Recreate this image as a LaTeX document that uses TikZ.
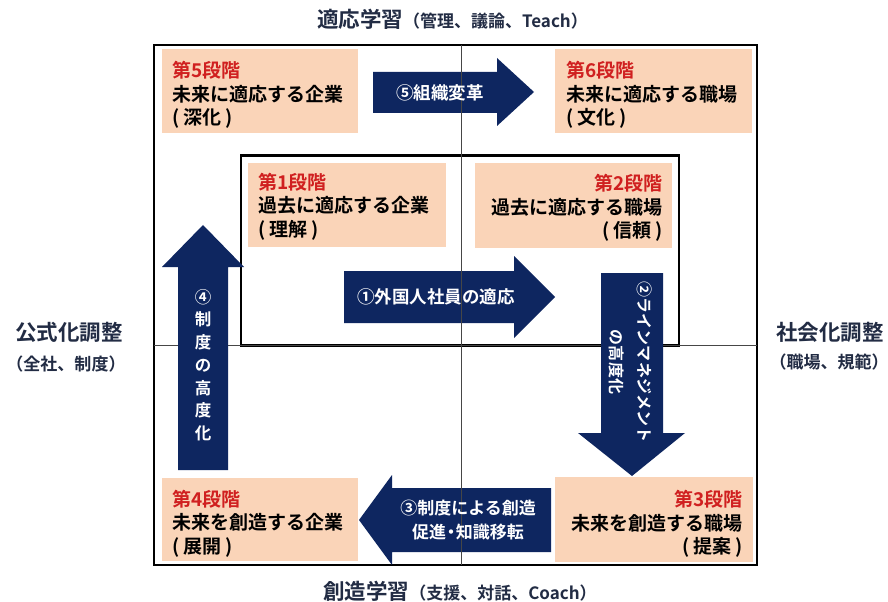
\documentclass[tikz,border=0pt]{standalone}
\usepackage{fontspec}
\newfontfamily\jp{Noto Sans CJK JP Bold}
\definecolor{navy}{RGB}{14,38,96}
\definecolor{peach}{RGB}{250,212,184}
\definecolor{stagered}{RGB}{208,32,32}
\definecolor{axistext}{RGB}{34,44,68}
\definecolor{midgray}{RGB}{70,70,70}
\tikzset{
  stagebox/.style={fill=peach, draw=none, inner sep=0pt, outer sep=0pt},
  stagetxt/.style={inner sep=0pt, font=\jp\fontsize{19bp}{23.5bp}\selectfont, text=black},
  arrowshape/.style={fill=navy, draw=none},
  arrowtxt/.style={inner sep=0pt, text=white, align=center, font=\jp\fontsize{17.5bp}{24bp}\selectfont},
  axisbig/.style={inner sep=0pt, text=axistext, font=\jp},
  frame/.style={draw=black, line width=2.2bp, inner sep=0pt, outer sep=0pt},
  midline/.style={draw=midgray, line width=0.9bp}
}
\newcommand{\stg}[1]{\textcolor{stagered}{#1}}
\newcommand{\pr}[1]{(\hspace{0.22em}#1\hspace{0.22em})}
\begin{document}
\begin{tikzpicture}[x=1bp,y=-1bp]
\useasboundingbox[fill=white] (0,0) rectangle (888,602);

% stage boxes
\node[stagebox, minimum width=196bp, minimum height=84bp] (box5) at (260,91) {};
\node[stagebox, minimum width=197bp, minimum height=84bp] (box6) at (653.5,91) {};
\node[stagebox, minimum width=198bp, minimum height=84bp] (box1) at (347,205) {};
\node[stagebox, minimum width=197bp, minimum height=85bp] (box2) at (573.5,205.5) {};
\node[stagebox, minimum width=196bp, minimum height=83bp] (box4) at (260,519.5) {};
\node[stagebox, minimum width=198bp, minimum height=85bp] (box3) at (654,519.5) {};

% frames
\node[frame, minimum width=603bp, minimum height=520bp] (outer) at (455.5,305) {};
\node[frame, minimum width=438bp, minimum height=190bp] (inner) at (460,250.5) {};

% horizontal centre line
\coordinate (hl) at (154,345);
\coordinate (hr) at (757,345);
\draw[midline] (hl) -- (hr);

% arrows
\fill[arrowshape] (373,72) -- (497,72) -- (497,58) -- (534,92) -- (497,126) -- (497,113) -- (373,113) -- cycle;
\fill[arrowshape] (344,271) -- (514,271) -- (514,256) -- (555,297) -- (514,338) -- (514,323) -- (344,323) -- cycle;
\fill[arrowshape] (601,273) -- (663,273) -- (663,433) -- (685,433) -- (632,476) -- (578,433) -- (601,433) -- cycle;
\fill[arrowshape] (551,488) -- (392,488) -- (392,475) -- (359,520) -- (392,565) -- (392,552) -- (551,552) -- cycle;
\fill[arrowshape] (178,470) -- (178,267) -- (162,267) -- (203,225) -- (244,267) -- (228,267) -- (228,470) -- cycle;

% vertical centre line
\coordinate (vt) at (461,45);
\coordinate (vb) at (461,565);
\draw[midline] (vt) -- (vb);

% arrow texts
\node[arrowtxt] (a5) at (440,92.5) {⑤組織変革};
\node[arrowtxt] (a1) at (436,297) {①外国人社員の適応};
\node[arrowtxt, font=\jp\fontsize{17bp}{24bp}\selectfont] (a3) at (468,520) {③制度による創造\\促進\hspace{-0.22em}・\hspace{-0.22em}知識移転};
\node[arrowtxt, rotate=-90, font=\jp\fontsize{16bp}{28bp}\selectfont] (a2) at (631,362) {②ラインマネジメント\\の高度化};
\node[arrowtxt, font=\jp\fontsize{16.5bp}{22.7bp}\selectfont] (a4) at (203,365) {④\\制\\度\\の\\高\\度\\化};

% stage texts
\node[stagetxt, align=left, anchor=west] (t5) at (172,95) {\stg{第5段階}\\未来に適応する企業\\\pr{深化}};
\node[stagetxt, align=left, anchor=west] (t6) at (566,95) {\stg{第6段階}\\未来に適応する職場\\\pr{文化}};
\node[stagetxt, align=left, anchor=west] (t1) at (258,206.5) {\stg{第1段階}\\過去に適応する企業\\\pr{理解}};
\node[stagetxt, align=right, anchor=east] (t2) at (663,208) {\stg{第2段階}\\過去に適応する職場\\\pr{信頼}};
\node[stagetxt, align=left, anchor=west] (t4) at (172,523.5) {\stg{第4段階}\\未来を創造する企業\\\pr{展開}};
\node[stagetxt, align=right, anchor=east] (t3) at (743,524) {\stg{第3段階}\\未来を創造する職場\\\pr{提案}};

% axis labels
\node[axisbig] (top) at (452.5,19) {{\fontsize{21.5bp}{24bp}\selectfont 適応学習}{\fontsize{17bp}{20bp}\selectfont （管理、議論、Teach）}};
\node[axisbig] (bottom) at (460,591) {{\fontsize{21.5bp}{24bp}\selectfont 創造学習}{\fontsize{17bp}{20bp}\selectfont （支援、対話、Coach）}};
\node[axisbig, font=\jp\fontsize{21.5bp}{24bp}\selectfont] (left1) at (69,332) {公式化調整};
\node[axisbig, font=\jp\fontsize{17bp}{20bp}\selectfont] (left2) at (66,364) {（全社、制度）};
\node[axisbig, font=\jp\fontsize{21.5bp}{24bp}\selectfont] (right1) at (830,332) {社会化調整};
\node[axisbig, font=\jp\fontsize{17bp}{20bp}\selectfont] (right2) at (829,362) {（職場、規範）};
\end{tikzpicture}
\end{document}
